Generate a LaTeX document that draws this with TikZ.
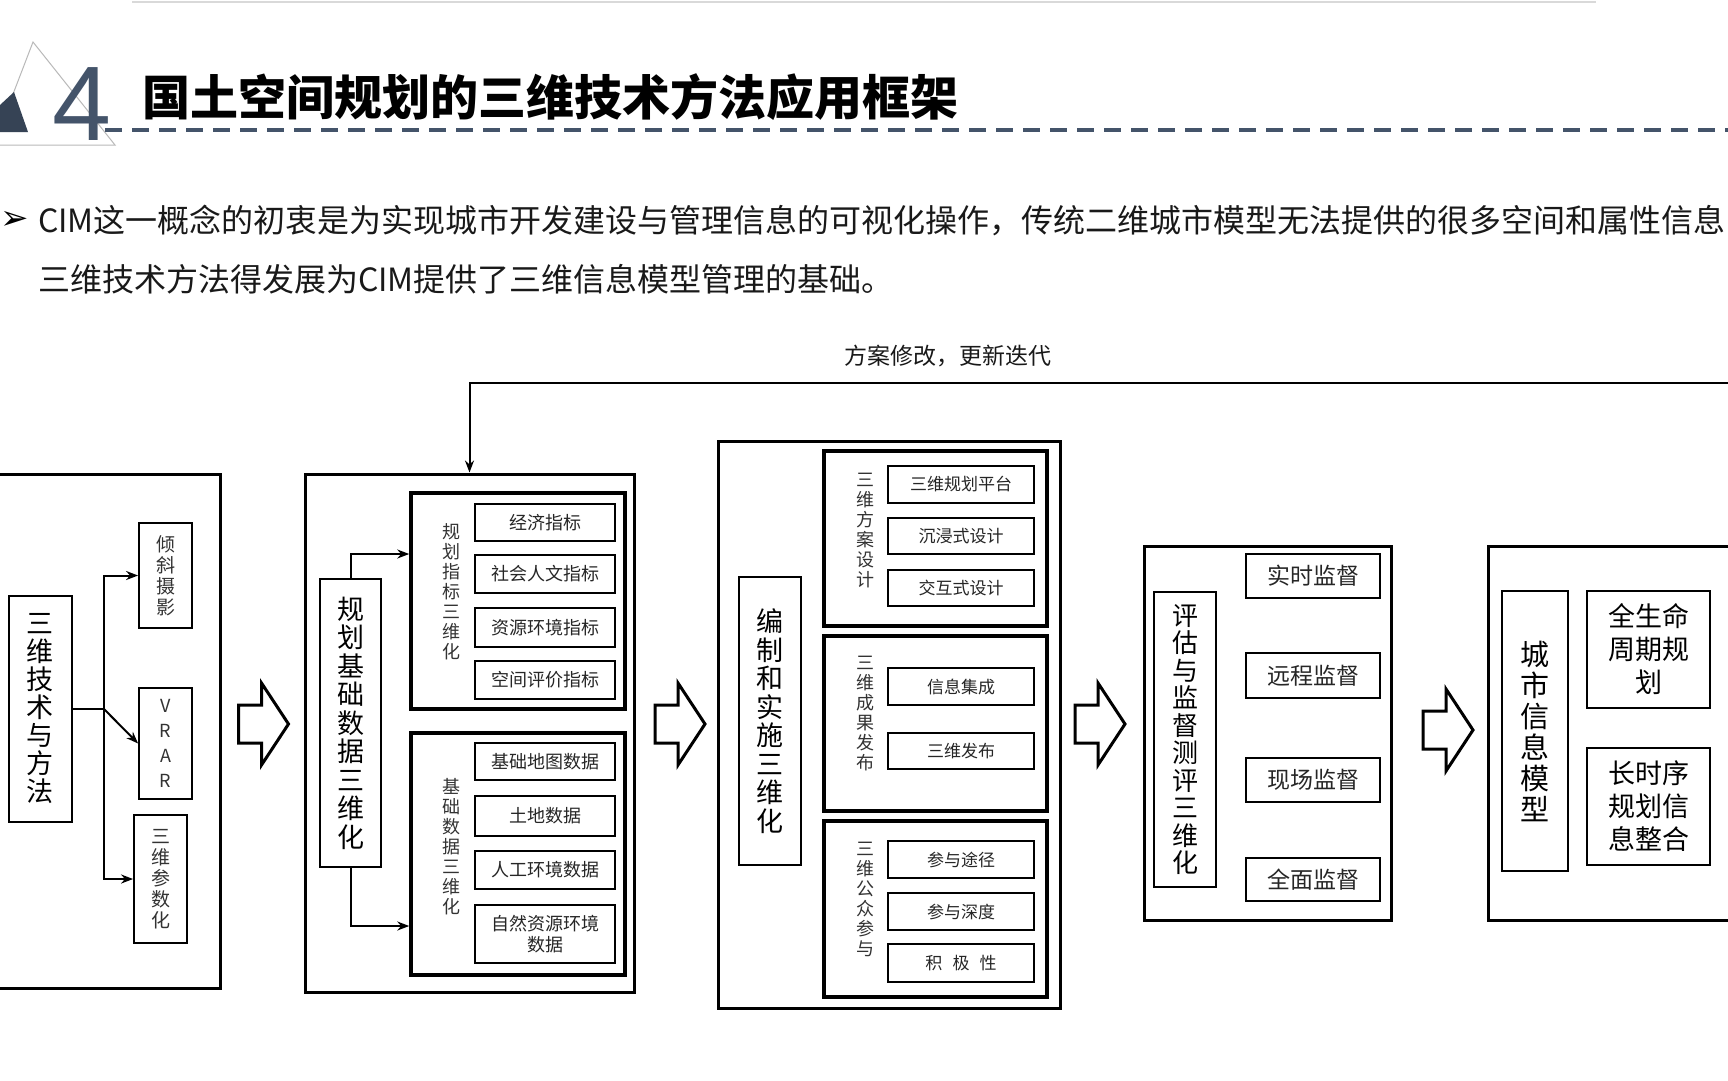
\documentclass[tikz,border=0pt]{standalone}
\usepackage{fontspec}
\usetikzlibrary{arrows.meta}
\setmainfont{Noto Sans CJK SC}
\newfontfamily\dejavu{DejaVu Sans}
\newfontfamily\libsans{Liberation Sans}
\newcommand\myfs[2]{\fontsize{#1}{#2}\selectfont}
\definecolor{navy}{HTML}{44546A}
\begin{document}
\begin{tikzpicture}[x=1pt,y=-1pt,
  sz/.style 2 args={minimum width=#1pt, minimum height=#2pt},
  outer/.style={draw, line width=3pt, inner sep=0pt},
  box/.style={draw, line width=2pt, inner sep=0pt, align=center},
  grp/.style={draw, line width=3.5pt, inner sep=0pt},
  item/.style={draw, line width=1.8pt, inner sep=0pt, align=center, text=black!85, font=\myfs{18}{21}},
  item3/.style={item, font=\myfs{17}{20}},
  item4/.style={draw, line width=2pt, inner sep=0pt, align=center, text=black!85, font=\myfs{23}{26}},
  lbl/.style={inner sep=0pt, align=center, text=black!80, font=\myfs{18}{20}},
  arr/.style={-{Stealth[length=12pt,width=9pt]}, line width=2pt},
  barrow/.pic={\draw[line width=3pt, fill=white, line join=miter] (-25,-19) -- (-2,-19) -- (-2,-41) -- (25,0) -- (-2,41) -- (-2,19) -- (-25,19) -- cycle;}
]
\useasboundingbox (0,0) rectangle (1728,1080);
\clip (0,0) rectangle (1728,1080);
\fill[white] (0,0) rectangle (1728,1080);

% header
\draw[gray!30, line width=2pt] (132,2) -- (1596,2);
\draw[gray!55, line width=1pt] (0,128) -- (33,42) -- (115,145) -- (0,145);
\fill[navy!80!black] (0,105) -- (14,92) -- (28,132) -- (0,132) -- cycle;
\node[text=navy, font=\libsans\myfs{106}{106}, inner sep=0pt] (four) at (82,104) {4};
\draw[navy, line width=4pt, dash pattern=on 17pt off 10pt] (105,130) -- (1728,130);
\node[anchor=west, inner sep=0pt, font=\bfseries\myfs{48}{50}] (title) at (142,97) {国土空间规划的三维技术方法应用框架};

% body text
\node[anchor=west, inner sep=0pt, font=\dejavu\myfs{34}{36}] (bul) at (0,220) {➢};
\node[anchor=west, inner sep=0pt, text=black!90, font=\myfs{32}{40}] (l1) at (38,220) {CIM这一概念的初衷是为实现城市开发建设与管理信息的可视化操作，传统二维城市模型无法提供的很多空间和属性信息};
\node[anchor=west, inner sep=0pt, text=black!90, font=\myfs{32}{40}] (l2) at (38,279) {三维技术方法得发展为CIM提供了三维信息模型管理的基础。};

\node[inner sep=0pt, text=black!90, font=\myfs{23}{26}] (fbl) at (948,356) {方案修改，更新迭代};

% box 1
\node[outer, sz={230}{514}] (o1) at (105,731) {};
\node[box, sz={63}{226}, font=\myfs{27}{28}] (tm) at (40.5,709) {三\\维\\技\\术\\与\\方\\法};
\node[box, line width=1.8pt, sz={53}{105}, text=black!80, font=\myfs{19}{21}] (qx) at (165.5,575.5) {倾\\斜\\摄\\影};
\node[box, line width=1.8pt, sz={53}{111}, text=black!80, font=\myfs{18}{25}] (vr) at (165.5,743.5) {V\\R\\A\\R};
\node[box, line width=1.8pt, sz={53}{128}, text=black!80, font=\myfs{19}{21}] (cs) at (160.5,879) {三\\维\\参\\数\\化};
\coordinate (j1) at (104,709);
\draw[line width=2pt] (tm.east) -- (j1);
\draw[arr] (j1) |- (qx.west);
\draw[arr] (j1) -- (vr.west);
\draw[arr] (j1) |- (cs.west);

% box 2
\node[outer, sz={329}{518}] (o2) at (469.5,733) {};
\node[box, sz={61}{288}, font=\myfs{27}{28.5}] (gj) at (350.5,723) {规\\划\\基\\础\\数\\据\\三\\维\\化};
\node[grp, sz={214}{216}] (g21) at (518,601) {};
\node[grp, sz={214}{242}] (g22) at (518,854) {};
\node[lbl] (l21) at (451,592) {规\\划\\指\\标\\三\\维\\化};
\node[lbl] (l22) at (451,847) {基\\础\\数\\据\\三\\维\\化};
\node[item, sz={140}{37}] (i1) at (545,522.5) {经济指标};
\node[item, sz={140}{38}] (i2) at (545,574) {社会人文指标};
\node[item, sz={140}{39}] (i3) at (545,627.5) {资源环境指标};
\node[item, sz={140}{38}] (i4) at (545,680) {空间评价指标};
\node[item, sz={140}{37}] (i5) at (545,761.5) {基础地图数据};
\node[item, sz={140}{40}] (i6) at (545,816) {土地数据};
\node[item, sz={140}{38}] (i7) at (545,870) {人工环境数据};
\node[item, sz={140}{58}] (i8) at (545,934) {自然资源环境\\数据};
\draw[arr] (gj.north) |- ([yshift=47pt]g21.west);
\draw[arr] (gj.south) |- ([yshift=-72pt]g22.west);
\coordinate (fbR) at (1740,383);
\draw[arr] (fbR) -| (o2.north);

% box 3
\node[outer, sz={342}{567}] (o3) at (889,724.5) {};
\node[box, sz={62}{288}, font=\myfs{27}{28.5}] (bz) at (770,721) {编\\制\\和\\实\\施\\三\\维\\化};
\node[grp, sz={223}{175}] (g31) at (935.5,538.5) {};
\node[grp, sz={223}{175}] (g32) at (935.5,723.5) {};
\node[grp, sz={223}{176}] (g33) at (935.5,909) {};
\node[lbl] (l31) at (865,531) {三\\维\\方\\案\\设\\计};
\node[lbl] (l32) at (865,714) {三\\维\\成\\果\\发\\布};
\node[lbl] (l33) at (865,899) {三\\维\\公\\众\\参\\与};
\node[item3, sz={146}{37}] (k1) at (961,484.5) {三维规划平台};
\node[item3, sz={146}{36}] (k2) at (961,536) {沉浸式设计};
\node[item3, sz={146}{36}] (k3) at (961,588) {交互式设计};
\node[item3, sz={146}{37}] (k4) at (961,686.5) {信息集成};
\node[item3, sz={146}{36}] (k5) at (961,751) {三维发布};
\node[item3, sz={146}{37}] (k6) at (961,859.5) {参与途径};
\node[item3, sz={146}{37}] (k7) at (961,911.5) {参与深度};
\node[item3, sz={146}{38}] (k8) at (961,963) {积\hspace{0.6em}极\hspace{0.6em}性};

% box 4
\node[outer, sz={247}{374}] (o4) at (1267.5,733) {};
\node[box, sz={62}{295}, font=\myfs{26}{27.5}] (pg) at (1185,739.5) {评\\估\\与\\监\\督\\测\\评\\三\\维\\化};
\node[item4, sz={134}{44}] (m1) at (1313,576) {实时监督};
\node[item4, sz={134}{45}] (m2) at (1313,675.5) {远程监督};
\node[item4, sz={134}{44}] (m3) at (1313,780) {现场监督};
\node[item4, sz={134}{43}] (m4) at (1313,879.5) {全面监督};

% box 5
\node[outer, sz={260}{374}] (o5) at (1618,733) {};
\node[box, sz={66}{280}, font=\myfs{29}{31}] (cm) at (1535,731) {城\\市\\信\\息\\模\\型};
\node[box, sz={123}{117}, font=\myfs{27}{33}] (qs) at (1648.5,649.5) {全生命\\周期规\\划};
\node[box, sz={123}{117}, font=\myfs{27}{33}] (cx) at (1648.5,806.5) {长时序\\规划信\\息整合};

% block arrows
\pic at (263.5,724) {barrow};
\pic at (680,724) {barrow};
\pic at (1100,724) {barrow};
\pic at (1448,730) {barrow};
\end{tikzpicture}
\end{document}
